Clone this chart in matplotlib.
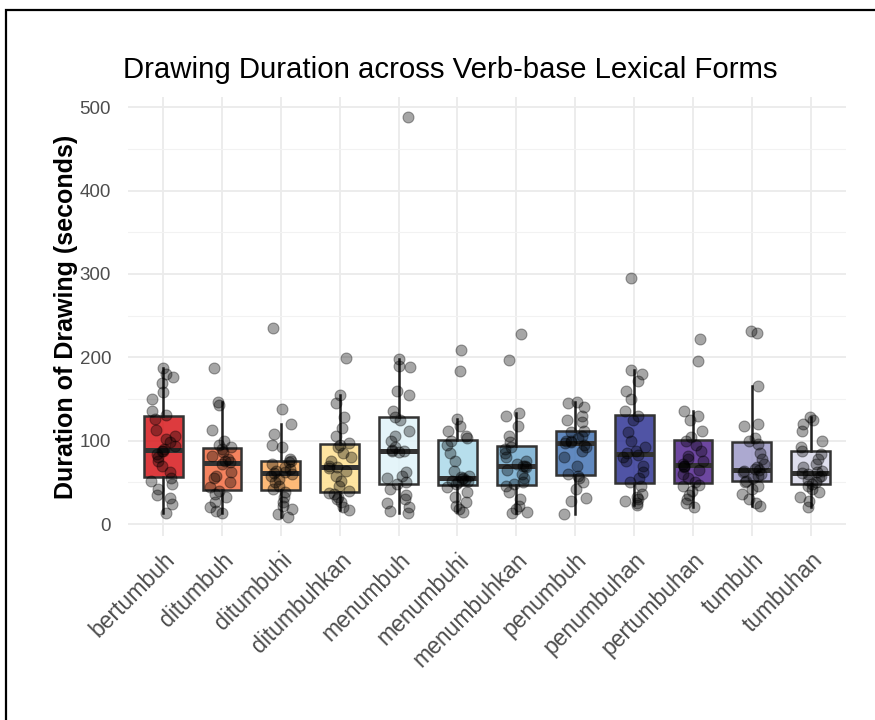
import matplotlib
matplotlib.use("Agg")
import matplotlib.pyplot as plt
import numpy as np
from matplotlib.patches import Rectangle
from matplotlib.ticker import MultipleLocator

plt.rcParams['font.family'] = ['Liberation Sans', 'DejaVu Sans']

forms = ['bertumbuh', 'ditumbuh', 'ditumbuhi', 'ditumbuhkan', 'menumbuh', 'menumbuhi',
         'menumbuhkan', 'penumbuh', 'penumbuhan', 'pertumbuhan', 'tumbuh', 'tumbuhan']

# drawing durations (seconds), one list per lexical form
bertumbuh = [13, 24, 31, 35, 42, 48, 52, 55, 62, 70, 76, 80, 84, 87, 88, 90, 94, 98, 102,
             106, 113, 126, 131, 136, 150, 158, 169, 176, 180, 187]
ditumbuh = [13, 16, 20, 27, 32, 36, 40, 44, 50, 55, 58, 62, 72, 74, 75, 78, 82, 86, 90,
            92, 95, 99, 113, 143, 146, 187]
ditumbuhi = [8, 12, 18, 22, 26, 32, 38, 42, 45, 50, 54, 57, 60, 61, 62, 64, 66, 68, 72,
             74, 75, 78, 92, 95, 108, 120, 138, 235]
ditumbuhkan = [17, 20, 26, 30, 33, 36, 37, 40, 46, 52, 58, 64, 67, 68, 70, 75, 80, 85, 92,
               95, 97, 105, 115, 128, 145, 155, 199]
menumbuh = [13, 16, 20, 25, 30, 35, 42, 48, 50, 55, 58, 62, 86, 87, 88, 89, 92, 100, 105,
            112, 125, 128, 135, 155, 160, 188, 190, 198, 488]
menumbuhi = [14, 18, 22, 27, 32, 38, 44, 48, 50, 51, 52, 53, 54, 55, 56, 58, 64, 75, 85,
             95, 100, 103, 106, 112, 118, 126, 183, 209]
menumbuhkan = [13, 15, 18, 22, 30, 38, 45, 48, 50, 55, 60, 65, 68, 70, 70, 72, 75, 80, 85,
               90, 92, 98, 105, 118, 130, 133, 197, 228]
penumbuh = [12, 28, 31, 42, 50, 55, 57, 60, 70, 80, 88, 92, 95, 97, 98, 99, 100, 103, 106,
            110, 112, 122, 125, 130, 140, 145, 146]
penumbuhan = [23, 25, 28, 30, 33, 36, 45, 50, 55, 62, 70, 75, 80, 83, 85, 88, 92, 100, 110,
              125, 130, 135, 150, 160, 172, 180, 185, 295]
pertumbuhan = [20, 25, 30, 35, 40, 45, 47, 50, 55, 60, 65, 68, 70, 70, 72, 75, 78, 82, 88,
               95, 100, 104, 112, 125, 130, 136, 195, 222]
tumbuh = [22, 25, 30, 36, 42, 46, 50, 52, 55, 58, 60, 62, 64, 65, 66, 68, 72, 78, 85,
          96, 100, 103, 118, 120, 165, 229, 232]
tumbuhan = [20, 28, 33, 38, 42, 46, 48, 50, 53, 56, 58, 60, 61, 62, 64, 68, 72, 78, 84,
            88, 92, 100, 112, 120, 125, 128]

durations = [bertumbuh, ditumbuh, ditumbuhi, ditumbuhkan, menumbuh, menumbuhi,
             menumbuhkan, penumbuh, penumbuhan, pertumbuhan, tumbuh, tumbuhan]

fills = ['#D7191C', '#F46D43', '#FDAE61', '#FEE090', '#E0F3F8', '#ABD9E9',
         '#74ADD1', '#4575B4', '#313695', '#54278F', '#9E9AC8', '#DADAEB']

fig = plt.figure(figsize=(8.75, 7.2), dpi=100)
ax = fig.add_axes([0.146, 0.256, 0.821, 0.609])

pos = np.arange(1, len(forms) + 1)
bp = ax.boxplot(durations, positions=pos, widths=0.66, patch_artist=True,
                showfliers=False, showcaps=False, whis=1.5,
                boxprops=dict(edgecolor='#333333', linewidth=1.8),
                whiskerprops=dict(color='#222222', linewidth=1.8),
                medianprops=dict(color='#333333', linewidth=3.6),
                zorder=2)
for patch, c in zip(bp['boxes'], fills):
    r, g, b = matplotlib.colors.to_rgb(c)
    patch.set_facecolor((r, g, b, 0.85))

# jitter like geom_jitter
rng = np.random.default_rng(7)
for i, vals in enumerate(durations):
    xs = pos[i] + rng.uniform(-0.2, 0.2, len(vals))
    ax.scatter(xs, vals, s=62, color='black', alpha=0.35, linewidths=0.8,
               edgecolors='black', zorder=3)

ax.set_xlim(0.4, len(forms) + 0.6)
ax.set_ylim(-14, 512)
ax.yaxis.set_major_locator(MultipleLocator(100))
ax.yaxis.set_minor_locator(MultipleLocator(50))
ax.set_xticks(pos)
ax.set_xticklabels(forms, rotation=45, ha='right', va='top', rotation_mode='anchor',
                   fontsize=16.5, color='#4D4D4D')
ax.tick_params(axis='y', labelsize=13.5, labelcolor='#4D4D4D', length=0, pad=12)
ax.tick_params(axis='x', length=0, pad=9)
ax.tick_params(which='minor', length=0)

ax.grid(which='major', color='#EBEBEB', linewidth=1.3)
ax.grid(which='minor', axis='y', color='#F2F2F2', linewidth=0.8)
ax.set_axisbelow(True)
for s in ax.spines.values():
    s.set_visible(False)

ax.set_ylabel('Duration of Drawing (seconds)', fontsize=18, fontweight='bold', labelpad=1)
ax.set_title('Drawing Duration across Verb-base Lexical Forms', fontsize=21.2,
             loc='left', x=-0.006, pad=14)

fig.patches.append(Rectangle((6 / 875, -0.1), 1.2, 1.1 - 10 / 720, transform=fig.transFigure,
                             fill=False, edgecolor='black', linewidth=1.6))

fig.savefig('out.png', dpi=100, facecolor='white')
